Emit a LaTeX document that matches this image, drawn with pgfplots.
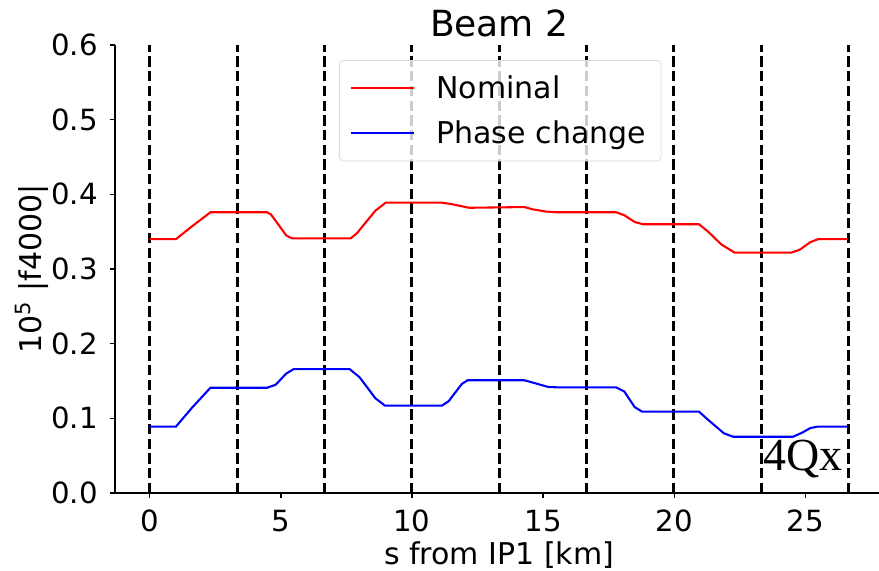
\documentclass[border=0pt]{standalone}
\usepackage{pgfplots}
\pgfplotsset{compat=1.18}
\usepackage{fontspec}
\setmainfont{DejaVu Sans}
\newfontfamily\timesfont{Liberation Serif}

\begin{document}
\begin{tikzpicture}
\useasboundingbox (-57.5pt,-38.5pt) rectangle (382pt,246.5pt);
\clip (-57.5pt,-38.5pt) rectangle (382pt,246.5pt);
\begin{axis}[
  at={(0pt,0pt)}, anchor=south west,
  scale only axis, width=384.25pt, height=224pt,
  xmin=-1.333, xmax=27.992, ymin=0, ymax=0.6,
  xtick={0,5,10,15,20,25},
  ytick={0,0.1,0.2,0.3,0.4,0.5,0.6},
  /pgf/number format/assume math mode=true,
  yticklabel style={/pgf/number format/fixed, /pgf/number format/fixed zerofill, /pgf/number format/precision=1},
  xticklabel style={/pgf/number format/fixed, /pgf/number format/precision=0},
  tick label style={font=\fontsize{14.6}{17}\selectfont},
  yticklabel style={anchor=east, inner sep=0pt, xshift=-6pt},
  xticklabel style={anchor=north, inner sep=0pt, yshift=-6pt},
  tick align=outside, xtick pos=bottom, ytick pos=left,
  major tick length=2.43pt,
  every tick/.style={black, line width=0.56pt},
  axis line style={line width=0.56pt},
  axis x line*=bottom, axis y line*=left,
  every axis title shift=0pt,
  title={Beam 2},
  title style={font=\fontsize{18}{21}\selectfont, at={(axis description cs:0.5,1.018)}, anchor=base},
  xlabel={s from IP1 [km]},
  xlabel style={font=\fontsize{15}{18}\selectfont, at={(axis description cs:0.5,-0.107)}, anchor=north, inner sep=0pt},
  ylabel={10\textsuperscript{5} |f4000|},
  ylabel style={font=\fontsize{15}{18}\selectfont, at={(axis description cs:-0.108,0.5)}, anchor=center, inner sep=0pt},
  legend cell align=left,
  legend image code/.code={\draw[#1] (0pt,0pt) -- (31.5pt,0pt); \path (40pt,0pt);},
  legend style={at={(0.2915,0.9665)}, anchor=north west,
    font=\fontsize{15}{18}\selectfont,
    draw=black!15, rounded corners=2pt, fill=white, fill opacity=0.8, text opacity=1,
    inner xsep=5.5pt, inner ysep=5.5pt, row sep=5.5pt},
]
% octant boundaries
\addplot[forget plot, ycomb, black, line width=1.45pt, dash pattern=on 5.15pt off 2.2pt, mark=none]
  coordinates {(0,0.6) (3.3324,0.6) (6.6648,0.6) (9.9972,0.6) (13.3296,0.6) (16.662,0.6) (19.9944,0.6) (23.3268,0.6) (26.6592,0.6)};

\addplot[red, line width=1.04pt, mark=none] coordinates {
(0,0.340) (0.99,0.340) (1.6,0.357) (2.31,0.376) (4.47,0.376) (4.62,0.373) (4.85,0.362) (5.2,0.345) (5.43,0.341)
(7.66,0.341) (7.9,0.348) (8.6,0.378) (9.0,0.389) (11.1,0.389) (11.5,0.387) (12.18,0.382)
(14.28,0.383) (14.6,0.380) (15.1,0.377) (15.5,0.376) (17.79,0.376) (18.1,0.372) (18.5,0.363) (18.81,0.360)
(20.95,0.360) (21.3,0.350) (21.8,0.333) (22.31,0.322) (24.48,0.322) (24.8,0.326) (25.2,0.336) (25.5,0.340) (26.64,0.340)
};
\addlegendentry{Nominal}

\addplot[blue, line width=1.04pt, mark=none] coordinates {
(0,0.0888) (0.99,0.0888) (1.6,0.114) (2.31,0.141) (4.47,0.141) (4.8,0.145) (5.2,0.160) (5.49,0.166)
(7.62,0.166) (8.0,0.155) (8.6,0.127) (8.97,0.117) (11.14,0.117) (11.4,0.123) (11.9,0.146) (12.12,0.151)
(14.28,0.151) (14.7,0.147) (15.2,0.142) (15.56,0.1415) (17.79,0.1415) (18.1,0.136) (18.5,0.115) (18.78,0.109)
(20.95,0.109) (21.3,0.098) (21.9,0.080) (22.25,0.0754) (24.54,0.0754) (24.9,0.081) (25.2,0.087) (25.46,0.0888) (26.64,0.0888)
};
\addlegendentry{Phase change}

\node[anchor=base west, inner sep=0pt, font=\timesfont\fontsize{23}{26}\selectfont] at (axis cs:23.38,0.0295) {4Qx};
\end{axis}
\end{tikzpicture}
\end{document}
